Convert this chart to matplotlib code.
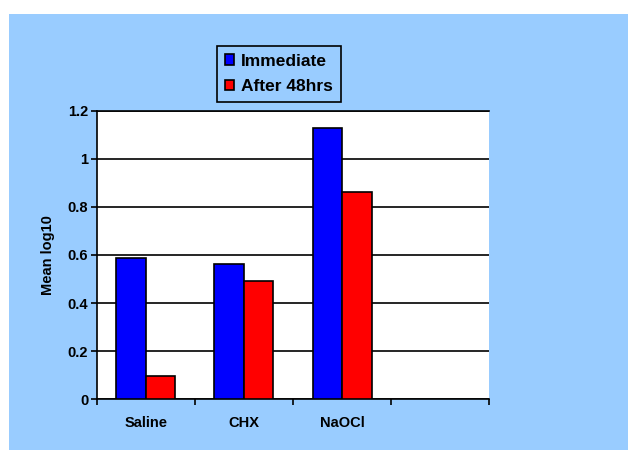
import matplotlib.pyplot as plt
import numpy as np
from matplotlib.patches import Rectangle

plt.rcParams['font.family'] = ['Liberation Sans', 'DejaVu Sans']
plt.rcParams['font.weight'] = 'bold'

# Data
categories = ['Saline', 'CHX', 'NaOCl', '']
series = ['Immediate', 'After 48hrs']
immediate = [0.589, 0.564, 1.127, np.nan]
after_48 = [0.097, 0.490, 0.862, np.nan]
colors = ['#0000FF', '#FF0000']

bg = '#99CCFF'

fig = plt.figure(figsize=(6.28, 4.5), dpi=100, facecolor='white')
fig.add_artist(Rectangle((9 / 628, 0), 1, 1 - 14 / 450, transform=fig.transFigure,
                         facecolor=bg, edgecolor='none', zorder=0))

ax = fig.add_axes([96.7 / 628, 1 - 399.3 / 450, (489.3 - 96.7) / 628, (399.3 - 110.7) / 450])
ax.set_facecolor('white')

x = np.arange(len(categories))
bar_width = 0.3
for i, (vals, name) in enumerate(zip([immediate, after_48], series)):
    ax.bar(x + (i - 0.5) * bar_width, vals, bar_width, color=colors[i],
           edgecolor='black', linewidth=1.2, label=name, zorder=3)

ax.set_xlim(-0.5, len(categories) - 0.5)
ax.set_ylim(0, 1.2)
ax.set_yticks(np.arange(0, 1.21, 0.2))
ax.set_yticklabels(['0', '0.2', '0.4', '0.6', '0.8', '1', '1.2'])
ax.yaxis.grid(True, color='black', linewidth=1.2, zorder=1)
ax.set_axisbelow(True)

# category boundaries as major ticks, labels at centres
ax.set_xticks(np.arange(-0.5, len(categories), 1))
ax.set_xticklabels([])
ax.set_xticks(x, minor=True)
ax.set_xticklabels(categories, minor=True)
ax.tick_params(axis='x', which='major', direction='out', length=4, width=1.2)
ax.tick_params(axis='x', which='minor', length=0, pad=12, labelsize=10.5)
ax.tick_params(axis='y', direction='out', length=4, width=1.2, pad=2, labelsize=10.5)

for s in ['left', 'bottom', 'top']:
    ax.spines[s].set_linewidth(1.2)
ax.spines['right'].set_visible(False)

ax.set_ylabel('Mean log10', fontsize=10.5, fontweight='bold', labelpad=9)

leg = fig.legend(loc='upper left', bbox_to_anchor=(217 / 628, 1 - 46 / 450),
                 borderaxespad=0, fancybox=False, framealpha=1, facecolor=bg,
                 edgecolor='black', fontsize=12.5, handlelength=0.55, handleheight=0.55,
                 handletextpad=0.4, labelspacing=0.6, borderpad=0.45)
leg.get_frame().set_linewidth(1.2)

plt.savefig('out.png', dpi=100)
